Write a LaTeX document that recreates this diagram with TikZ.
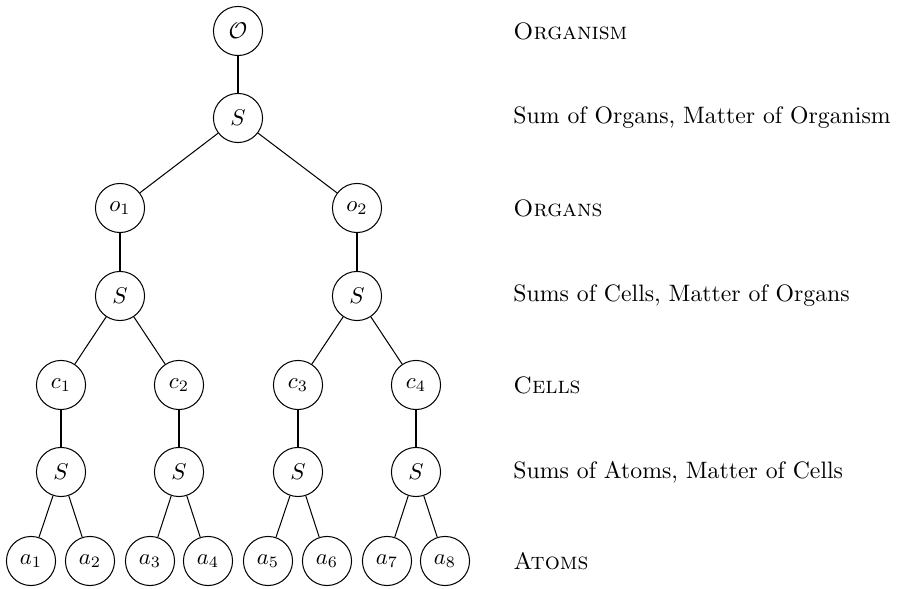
\documentclass[tikz,border=0pt]{standalone}
\begin{document}
\begin{tikzpicture}[x=0.44pt,y=-0.44pt,
  font=\fontsize{10.45}{12.5}\selectfont,
  tn/.style={circle,draw,line width=0.45pt,inner sep=0pt,minimum size=21.6pt},
  lbl/.style={anchor=west,inner sep=0pt},
  edge/.style={line width=0.45pt}]
\useasboundingbox (0,0) rectangle (898,589);
\node[tn] (O) at (238,31) {$\mathcal{O}$};
\node[tn] (S0) at (238,118) {$S$};
\node[tn] (o1) at (120,208) {$o_1$};
\node[tn] (o2) at (357,208) {$o_2$};
\node[tn] (S1) at (120,296) {$S$};
\node[tn] (S2) at (357,296) {$S$};
\node[tn] (c1) at (61,385) {$c_1$};
\node[tn] (c2) at (179,385) {$c_2$};
\node[tn] (c3) at (298,385) {$c_3$};
\node[tn] (c4) at (416,385) {$c_4$};
\node[tn] (S3) at (61,472) {$S$};
\node[tn] (S4) at (179,472) {$S$};
\node[tn] (S5) at (298,472) {$S$};
\node[tn] (S6) at (416,472) {$S$};
\node[tn] (a1) at (31,561) {$a_1$};
\node[tn] (a2) at (90,561) {$a_2$};
\node[tn] (a3) at (150,561) {$a_3$};
\node[tn] (a4) at (208,561) {$a_4$};
\node[tn] (a5) at (268,561) {$a_5$};
\node[tn] (a6) at (327,561) {$a_6$};
\node[tn] (a7) at (387,561) {$a_7$};
\node[tn] (a8) at (445,561) {$a_8$};
\draw[edge] (O)--(S0);
\draw[edge] (S0)--(o1); \draw[edge] (S0)--(o2);
\draw[edge] (o1)--(S1); \draw[edge] (o2)--(S2);
\draw[edge] (S1)--(c1); \draw[edge] (S1)--(c2);
\draw[edge] (S2)--(c3); \draw[edge] (S2)--(c4);
\draw[edge] (c1)--(S3); \draw[edge] (c2)--(S4);
\draw[edge] (c3)--(S5); \draw[edge] (c4)--(S6);
\draw[edge] (S3)--(a1); \draw[edge] (S3)--(a2);
\draw[edge] (S4)--(a3); \draw[edge] (S4)--(a4);
\draw[edge] (S5)--(a5); \draw[edge] (S5)--(a6);
\draw[edge] (S6)--(a7); \draw[edge] (S6)--(a8);
\node[lbl] (L1) at (513,31) {\textsc{Organism}};
\node[lbl] (L2) at (513,118) {Sum of Organs, Matter of Organism};
\node[lbl] (L3) at (513,208) {\textsc{Organs}};
\node[lbl] (L4) at (513,296) {Sums of Cells, Matter of Organs};
\node[lbl] (L5) at (513,385) {\textsc{Cells}};
\node[lbl] (L6) at (513,472) {Sums of Atoms, Matter of Cells};
\node[lbl] (L7) at (513,561) {\textsc{Atoms}};
\end{tikzpicture}
\end{document}
